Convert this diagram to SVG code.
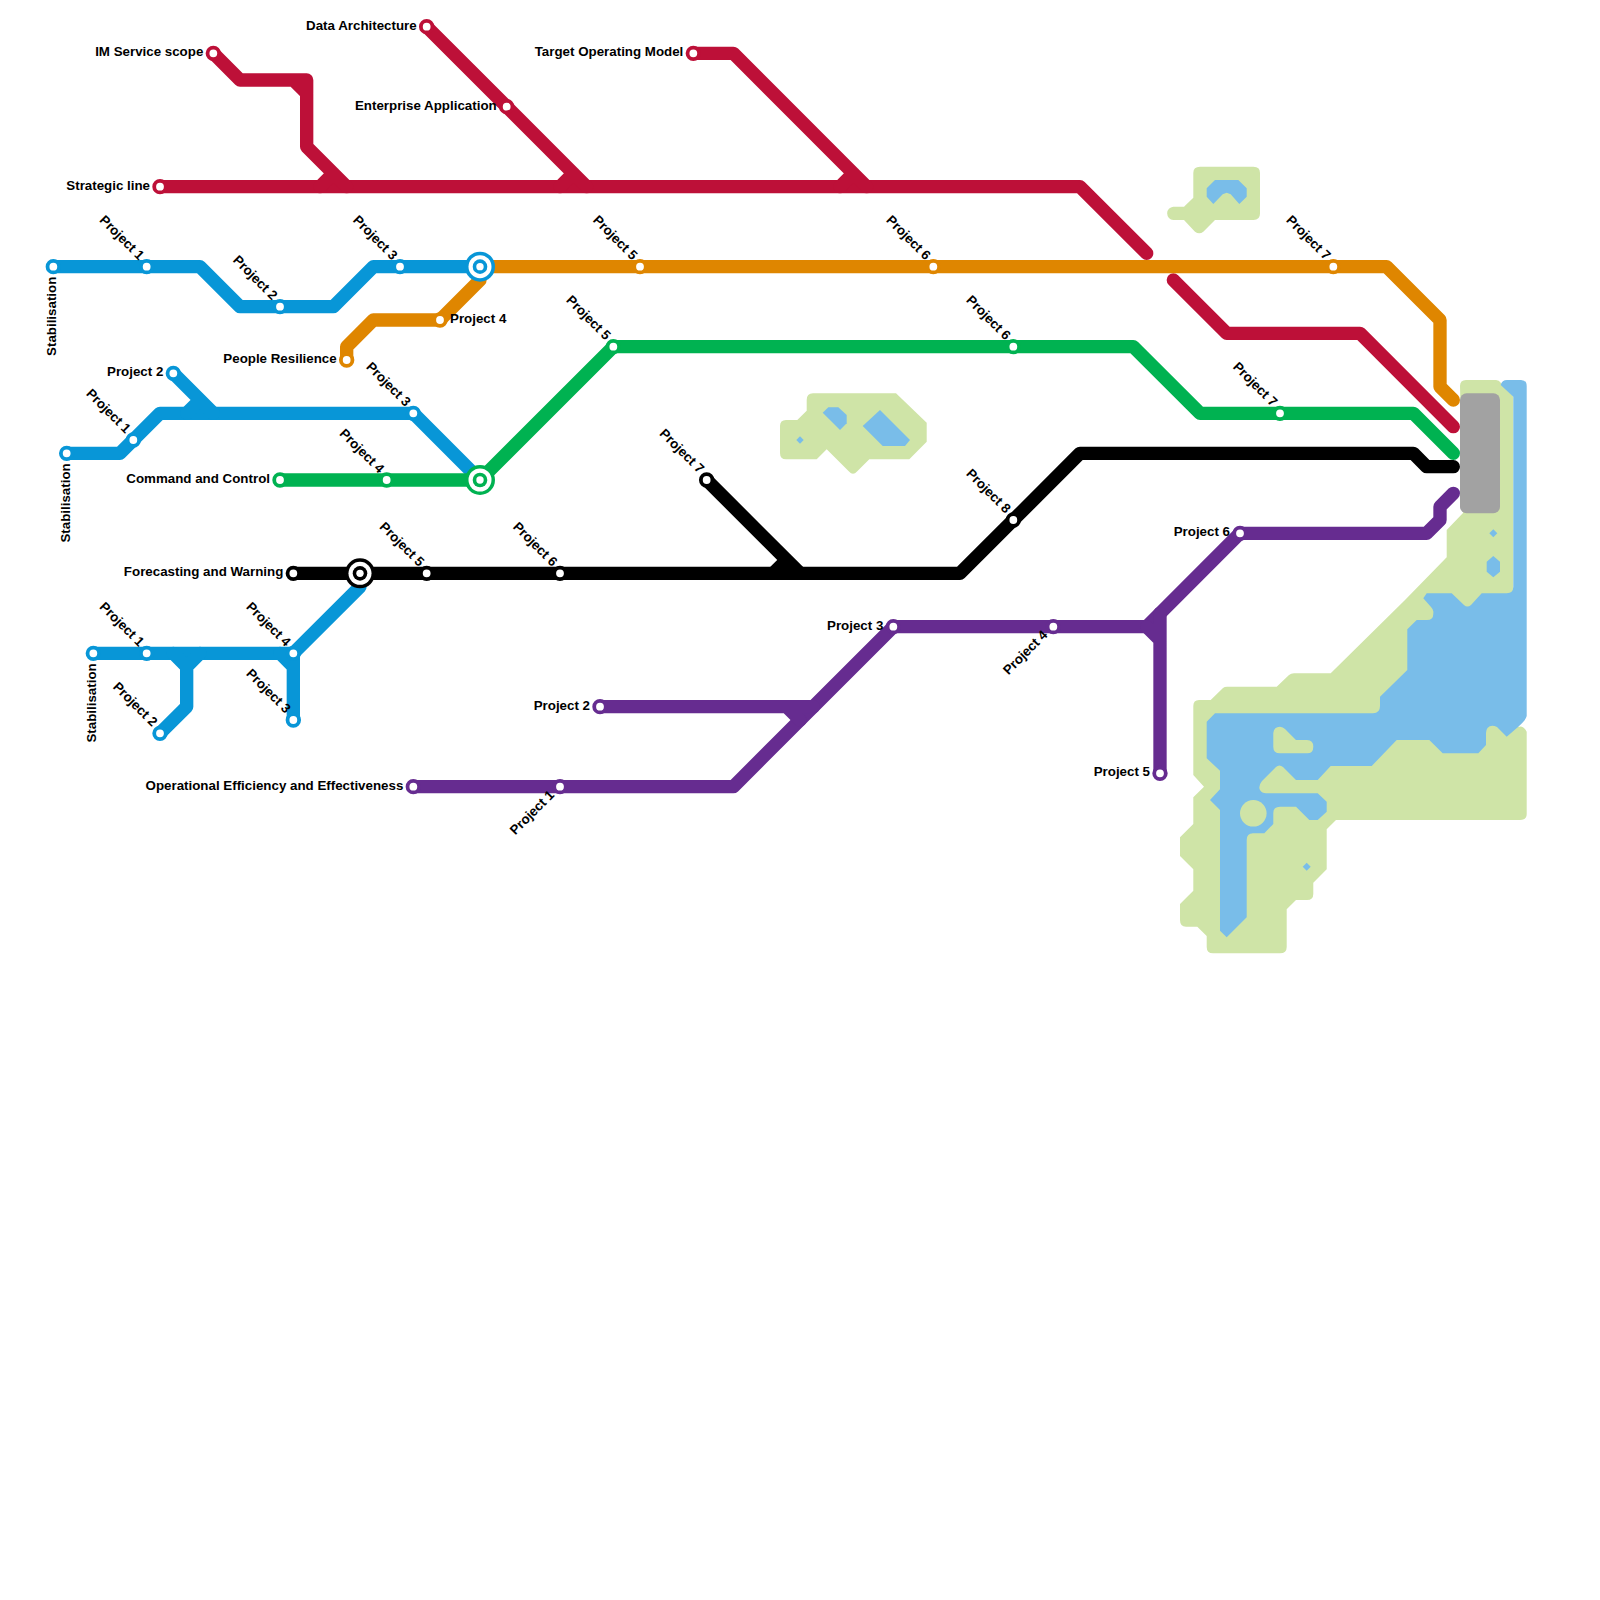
<svg xmlns="http://www.w3.org/2000/svg" width="1600" height="1600" viewBox="0 0 1600 1600">
<style>
text{font-family:"Liberation Sans",Arial,sans-serif;font-weight:700;font-size:13.33px;fill:#000}
.e{text-anchor:end}
.land{fill:#cfe4a7}
.water{fill:#79bde9}
.grey{fill:#a2a2a2}
#connectors path{fill:none;stroke-width:1;stroke-linecap:round;stroke-linejoin:round}
.red{stroke:#bd1038}.orange{stroke:#df8600}.blue{stroke:#0896d7}.green{stroke:#00b251}.black{stroke:#000}.purple{stroke:#662c90}
circle.s{fill:#fff;stroke-width:3.8}
circle.w{fill:#fff}
</style>
<rect width="1600" height="1600" fill="#fff"/>
<g id="terrain">
<path class="land" d="M1466,380H1496Q1499,380 1501,383L1513.3,396.7V700L1518.3,727Q1523,725 1526.7,731.7V814Q1526.7,820 1520,820H1336L1326.7,829.3V869.3L1313.3,882.7V894Q1313.3,900 1307,900H1296L1286.7,909.3V947Q1286.7,953.3 1280,953.3H1213Q1206.7,953.3 1206.7,947V936L1197.3,926.7H1186Q1180,926.7 1180,920V904L1193.3,890.7V869.3L1180,856V837.3L1193.3,824V797.3L1204,786.7L1193.3,775V706Q1193.3,700 1199,700H1210.7L1223,688Q1224.5,686.7 1227,686.7H1276.7L1289,675Q1291,673.3 1294,673.3H1330.7L1405,600L1446.7,557.3V530L1463,513L1460,386Q1460,380 1466,380Z"/>
<path class="water" d="M1500.7,385Q1502,380 1507,380H1521Q1526.7,380 1526.7,386V716Q1526,720 1518.3,726.7L1506.7,736.7L1497,727Q1491,724 1487.5,728Q1486,730 1486,733V745L1478.3,753.3H1442.7L1429.3,740H1396.7L1371.7,766H1330.7L1317.7,780H1296L1283,767Q1279.3,764 1276,767L1262,781Q1258,786 1260,790Q1262,793.3 1266,793.3H1317.7L1326.7,801.7V811.7L1317.7,820H1309.3L1296,806.7H1280Q1273.3,806.7 1273.3,813V824L1264.3,833.3H1253Q1246.7,833.3 1246.7,840V917.3L1226.7,937.3L1220,930.7V810L1210,800L1220,789.3V770.7L1206.7,758.3V721.7L1215,713.3H1373Q1380,713.3 1380,706V696.7L1407.3,670V629.3L1416.7,620H1427Q1433.3,620 1433.3,614V613Q1434,610 1431,607L1423.3,598.3L1426.7,593.3H1451.7L1464,605Q1467.3,608 1471,605L1481.7,593.3H1506.7Q1513.3,593 1513.3,586.7V396.7Z"/>
<circle class="land" cx="1253.3" cy="813.3" r="13.3"/>
<path class="land" d="M1273.3,733Q1274,726.7 1280,726.7Q1283,727 1285,729L1296,740H1307Q1313.3,740 1313.3,746.7T1307,753.3H1280Q1273.3,753.3 1273.3,747Z"/>
<polygon class="water" points="1306.7,862.7 1310.7,866.7 1306.7,870.7 1302.7,866.7"/>
<polygon class="water" points="1493.3,529.3 1497.3,533.3 1493.3,537.3 1489.3,533.3"/>
<polygon class="water" points="1493.3,556 1500,561.7 1500,571.7 1493.3,577.3 1486.7,571.7 1486.7,561.7"/>
<rect class="grey" x="1460" y="393.3" width="40" height="120" rx="6.67"/>
<path class="land" d="M813,393.3H896L926.7,422.7V441.7L909.3,459.3H869.3L857,471.5Q853,476 849,471.5L826.7,449.3L816.7,459.3H786Q780,459.3 780,453V426Q780,420 786,420H797.3L806.7,410.7V400Q806.7,393.3 813,393.3Z"/>
<polygon class="water" points="828.3,407.3 838.3,407.3 846.7,415 846.7,423.3 840,430 822.7,412.7"/>
<polygon class="water" points="880,410 910,440 905,446 882.7,446 862.7,426"/>
<polygon class="water" points="800,436.3 803.7,440 800,443.7 796.3,440"/>
<path class="land" d="M1193.3,173Q1193.3,166.7 1200,166.7H1253.5Q1260,166.7 1260,173V213.5Q1260,220 1253.5,220H1215L1203.3,231.7Q1199.3,235 1195,231.7L1184,220H1173.3A6.67,6.67 0 0 1 1173.3,206.7H1184L1193.3,197.7Z"/>
<polygon class="water" points="1215,180 1238.3,180 1246.7,188.3 1246.7,196.7 1239.3,204 1230.7,194.3 1226.7,192.7 1222.7,194.3 1213.3,204 1206.7,196.7 1206.7,188.3"/>
</g>
<g id="connectors" transform="scale(13.33333)">
<path class="blue" d="M4 20H15L18 23H25L28 20H36"/>
<path class="blue" d="M5 34H9L12 31H31L36 36"/>
<path class="blue" d="M13 28L16 31M15 30L14 31"/>
<path class="blue" d="M7 49H22L27 44"/>
<path class="blue" d="M22 54V49M21 49L22 50"/>
<path class="blue" d="M12 55L14 53V50M13 49L14 50L15 49"/>
<path class="red" d="M12 14H81L86 19"/>
<path class="red" d="M88 21L92 25H102L109 32"/>
<path class="red" d="M16 4L18 6H23V11L26 14M22 6L23 7M25 13L24 14"/>
<path class="red" d="M32 2L44 14M43 13L42 14"/>
<path class="red" d="M52 4H55L65 14M64 13L63 14"/>
<path class="orange" d="M26 27V26L28 24H33L36 21V20H104L108 24V29L109 30"/>
<path class="green" d="M21 36H36L46 26H85L90 31H106L109 34"/>
<path class="black" d="M22 43H72L81 34H106L107 35H109"/>
<path class="black" d="M53 36L60 43M59 42L58 43"/>
<path class="purple" d="M31 59H55L67 47H86L93 40H107L108 39V38L109 37"/>
<path class="purple" d="M45 53H61M59 53L60 54"/>
<path class="purple" d="M87 58V46M86 47L87 48"/>
</g>
<g id="interchange-blue" transform="translate(480 266.67)"><circle r="15" fill="#0896d7"/><circle class="w" r="11.5"/><circle r="7.3" fill="#0896d7"/><circle class="w" r="3.7"/></g>
<g id="interchange-green" transform="translate(480 480)"><circle r="15" fill="#00b251"/><circle class="w" r="11.5"/><circle r="7.3" fill="#00b251"/><circle class="w" r="3.7"/></g>
<g id="interchange-black" transform="translate(360 573.33)"><circle r="15" fill="#000"/><circle class="w" r="11.5"/><circle r="7.3" fill="#000"/><circle class="w" r="3.7"/></g>

<g id="n-im" transform="translate(213.33 53.33)"><circle class="s red" r="5.8"/><text class="e" x="-10" y="3">IM Service scope</text></g>
<g id="n-data" transform="translate(426.67 26.67)"><circle class="s red" r="5.8"/><text class="e" x="-10" y="3">Data Architecture</text></g>
<g id="n-ent" transform="translate(506.67 106.67)"><circle class="s red" r="5.8"/><text class="e" x="-10" y="3">Enterprise Application</text></g>
<g id="n-tom" transform="translate(693.33 53.33)"><circle class="s red" r="5.8"/><text class="e" x="-10" y="3">Target Operating Model</text></g>
<g id="n-strat" transform="translate(160 186.67)"><circle class="s red" r="5.8"/><text class="e" x="-10" y="3">Strategic line</text></g>

<g id="n-b1s" transform="translate(53.33 266.67)"><circle class="s blue" r="5.8"/><text class="e" transform="translate(3 10) rotate(-90)">Stabilisation</text></g>
<g id="n-b1p1" transform="translate(146.67 266.67)"><circle class="s blue" r="5.8"/><text class="e" transform="translate(-8 -6) rotate(45)">Project 1</text></g>
<g id="n-b1p2" transform="translate(280 306.67)"><circle class="s blue" r="5.8"/><text class="e" transform="translate(-8 -6) rotate(45)">Project 2</text></g>
<g id="n-b1p3" transform="translate(400 266.67)"><circle class="s blue" r="5.8"/><text class="e" transform="translate(-8 -6) rotate(45)">Project 3</text></g>
<g id="n-b2s" transform="translate(66.67 453.33)"><circle class="s blue" r="5.8"/><text class="e" transform="translate(3 10) rotate(-90)">Stabilisation</text></g>
<g id="n-b2p1" transform="translate(133.33 440)"><circle class="s blue" r="5.8"/><text class="e" transform="translate(-8 -6) rotate(45)">Project 1</text></g>
<g id="n-b2p2" transform="translate(173.33 373.33)"><circle class="s blue" r="5.8"/><text class="e" x="-10" y="3">Project 2</text></g>
<g id="n-b2p3" transform="translate(413.33 413.33)"><circle class="s blue" r="5.8"/><text class="e" transform="translate(-8 -6) rotate(45)">Project 3</text></g>
<g id="n-b3s" transform="translate(93.33 653.33)"><circle class="s blue" r="5.8"/><text class="e" transform="translate(3 10) rotate(-90)">Stabilisation</text></g>
<g id="n-b3p1" transform="translate(146.67 653.33)"><circle class="s blue" r="5.8"/><text class="e" transform="translate(-8 -6) rotate(45)">Project 1</text></g>
<g id="n-b3p2" transform="translate(160 733.33)"><circle class="s blue" r="5.8"/><text class="e" transform="translate(-8 -6) rotate(45)">Project 2</text></g>
<g id="n-b3p4" transform="translate(293.33 653.33)"><circle class="s blue" r="5.8"/><text class="e" transform="translate(-8 -6) rotate(45)">Project 4</text></g>
<g id="n-b3p3" transform="translate(293.33 720)"><circle class="s blue" r="5.8"/><text class="e" transform="translate(-8 -6) rotate(45)">Project 3</text></g>

<g id="n-opr" transform="translate(346.67 360)"><circle class="s orange" r="5.8"/><text class="e" x="-10" y="3">People Resilience</text></g>
<g id="n-op4" transform="translate(440 320)"><circle class="s orange" r="5.8"/><text x="10" y="3">Project 4</text></g>
<g id="n-op5" transform="translate(640 266.67)"><circle class="s orange" r="5.8"/><text class="e" transform="translate(-8 -6) rotate(45)">Project 5</text></g>
<g id="n-op6" transform="translate(933.33 266.67)"><circle class="s orange" r="5.8"/><text class="e" transform="translate(-8 -6) rotate(45)">Project 6</text></g>
<g id="n-op7" transform="translate(1333.33 266.67)"><circle class="s orange" r="5.8"/><text class="e" transform="translate(-8 -6) rotate(45)">Project 7</text></g>

<g id="n-gcc" transform="translate(280 480)"><circle class="s green" r="5.8"/><text class="e" x="-10" y="3">Command and Control</text></g>
<g id="n-gp4" transform="translate(386.67 480)"><circle class="s green" r="5.8"/><text class="e" transform="translate(-8 -6) rotate(45)">Project 4</text></g>
<g id="n-gp5" transform="translate(613.33 346.67)"><circle class="s green" r="5.8"/><text class="e" transform="translate(-8 -6) rotate(45)">Project 5</text></g>
<g id="n-gp6" transform="translate(1013.33 346.67)"><circle class="s green" r="5.8"/><text class="e" transform="translate(-8 -6) rotate(45)">Project 6</text></g>
<g id="n-gp7" transform="translate(1280 413.33)"><circle class="s green" r="5.8"/><text class="e" transform="translate(-8 -6) rotate(45)">Project 7</text></g>

<g id="n-kfw" transform="translate(293.33 573.33)"><circle class="s black" r="5.8"/><text class="e" x="-10" y="3">Forecasting and Warning</text></g>
<g id="n-kp5" transform="translate(426.67 573.33)"><circle class="s black" r="5.8"/><text class="e" transform="translate(-8 -6) rotate(45)">Project 5</text></g>
<g id="n-kp6" transform="translate(560 573.33)"><circle class="s black" r="5.8"/><text class="e" transform="translate(-8 -6) rotate(45)">Project 6</text></g>
<g id="n-kp7" transform="translate(706.67 480)"><circle class="s black" r="5.8"/><text class="e" transform="translate(-8 -6) rotate(45)">Project 7</text></g>
<g id="n-kp8" transform="translate(1013.33 520)"><circle class="s black" r="5.8"/><text class="e" transform="translate(-8 -6) rotate(45)">Project 8</text></g>

<g id="n-poe" transform="translate(413.33 786.67)"><circle class="s purple" r="5.8"/><text class="e" x="-10" y="3">Operational Efficiency and Effectiveness</text></g>
<g id="n-pp1" transform="translate(560 786.67)"><circle class="s purple" r="5.8"/><text class="e" transform="translate(-5 9) rotate(-45)">Project 1</text></g>
<g id="n-pp2" transform="translate(600 706.67)"><circle class="s purple" r="5.8"/><text class="e" x="-10" y="3">Project 2</text></g>
<g id="n-pp3" transform="translate(893.33 626.67)"><circle class="s purple" r="5.8"/><text class="e" x="-10" y="3">Project 3</text></g>
<g id="n-pp4" transform="translate(1053.33 626.67)"><circle class="s purple" r="5.8"/><text class="e" transform="translate(-5 9) rotate(-45)">Project 4</text></g>
<g id="n-pp5" transform="translate(1160 773.33)"><circle class="s purple" r="5.8"/><text class="e" x="-10" y="3">Project 5</text></g>
<g id="n-pp6" transform="translate(1240 533.33)"><circle class="s purple" r="5.8"/><text class="e" x="-10" y="3">Project 6</text></g>
</svg>
